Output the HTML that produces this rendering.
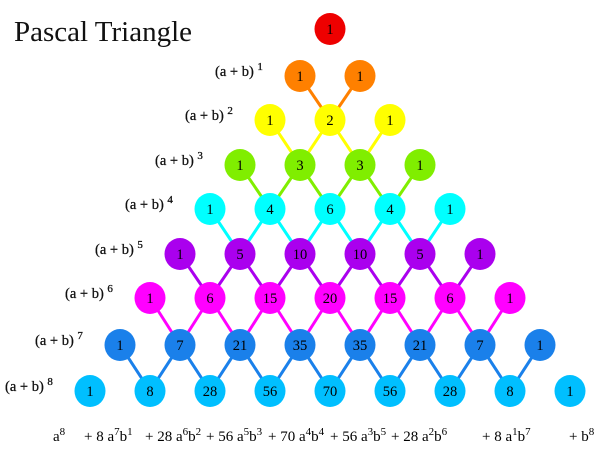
<!DOCTYPE html>
<html><head><meta charset="utf-8"><style>
html,body{margin:0;padding:0;background:#fff;}
svg{display:block;font-family:"Liberation Serif",serif;}
</style></head><body>
<svg id="chart" width="600" height="460" viewBox="0 0 600 460">
<text x="14" y="41" font-size="29" fill="#111">Pascal Triangle</text>
<g id="edges"></g>
<g id="nodes"></g>
<g id="labels"></g>
<g id="terms" font-size="15"></g>
</svg>
<script>
const rowCount = 9;
const rowColors = ["#ee0000","#ff8000","#ffff00","#80ee00","#00ffff","#aa00ee","#ff00ff","#1a80ea","#00bfff"];
const rowY = [29,76,120,165,209,254,298,345,391];
const termText = [["a","8",""],["+ 8 a","7","b","1"],["+ 28 a","6","b","2"],["+ 56 a","5","b","3"],["+ 70 a","4","b","4"],["+ 56 a","3","b","5"],["+ 28 a","2","b","6"],["+ 8 a","1","b","7"],["+ b","8"]];
const termX = [53,84,145,206,268,330,391,482,569];

const NS="http://www.w3.org/2000/svg";
const cx=(r,k)=>330-30*r+60*k;
const rows=[];
for(let r=0;r<rowCount;r++){const row=[];for(let k=0;k<=r;k++){row.push(k===0||k===r?1:rows[r-1][k-1]+rows[r-1][k]);}rows.push(row);}
const edges=document.getElementById('edges'),nodes=document.getElementById('nodes'),labels=document.getElementById('labels'),terms=document.getElementById('terms');
for(let r=1;r<rowCount;r++){
  for(let k=1;k<r;k++){
    for(const p of [k-1,k]){
      const l=document.createElementNS(NS,'line');
      l.setAttribute('x1',cx(r-1,p));l.setAttribute('y1',rowY[r-1]);
      l.setAttribute('x2',cx(r,k));l.setAttribute('y2',rowY[r]);
      l.setAttribute('stroke',rowColors[r-1]);l.setAttribute('stroke-width','3');
      
      
      edges.appendChild(l);
    }
  }
}
for(let r=0;r<rowCount;r++){
  for(let k=0;k<=r;k++){
    const g=document.createElementNS(NS,'g');
    
    
    const c=document.createElementNS(NS,'ellipse');
    c.setAttribute('cx',cx(r,k));c.setAttribute('cy',rowY[r]);c.setAttribute('rx',15.5);c.setAttribute('ry',16);
    c.setAttribute('fill',rowColors[r]);
    const t=document.createElementNS(NS,'text');
    t.setAttribute('x',cx(r,k));t.setAttribute('y',rowY[r]+5);t.setAttribute('text-anchor','middle');t.setAttribute('font-size','14.5');
    t.textContent=rows[r][k];
    g.appendChild(c);g.appendChild(t);nodes.appendChild(g);
  }
  if(r>0){
    const t=document.createElementNS(NS,'text');
    t.setAttribute('x',245-30*r);t.setAttribute('y',rowY[r]);t.setAttribute('font-size','14.5');t.setAttribute('fill','#111');t.setAttribute('stroke','#111');t.setAttribute('stroke-width','0.3');
    t.innerHTML='(a + b) <tspan font-size="11" dy="-6">'+r+'</tspan>';
    
    
    labels.appendChild(t);
  }
}
termText.forEach((parts,i)=>{
  const t=document.createElementNS(NS,'text');
  t.setAttribute('x',termX[i]);t.setAttribute('y',441);
  let h='';
  for(let j=0;j<parts.length;j++){
    if(j%2===0) h+='<tspan dy="'+(j===0?0:6)+'">'+parts[j]+'</tspan>';
    else h+='<tspan font-size="11" dy="-6">'+parts[j]+'</tspan>';
  }
  t.innerHTML=h;
  
  
  terms.appendChild(t);
});
</script>
</body></html>
